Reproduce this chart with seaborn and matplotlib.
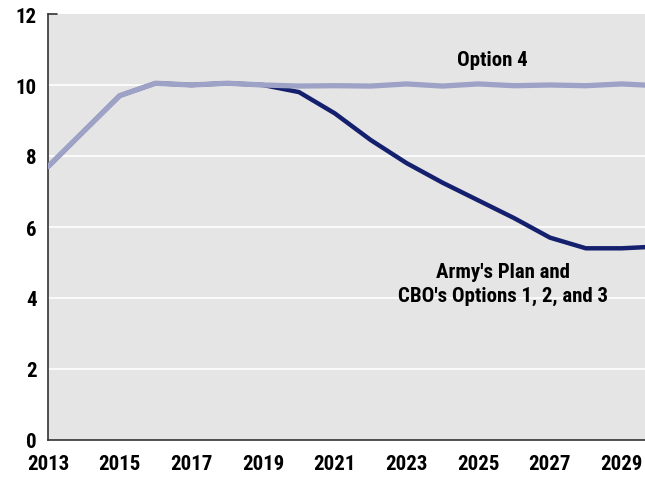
import numpy as np
import pandas as pd
import matplotlib
matplotlib.use("Agg")
import matplotlib.pyplot as plt
import seaborn as sns

# Datos
years = list(range(2013, 2031))
army_plan = [7.7, 8.7, 9.7, 10.05, 10.0, 10.05, 10.0, 9.8, 9.2, 8.45, 7.8, 7.25,
             6.75, 6.25, 5.7, 5.4, 5.4, 5.45]
option4 = [7.7, 8.7, 9.7, 10.05, 10.0, 10.05, 10.0, 9.97, 9.98, 9.97, 10.03, 9.97,
           10.03, 9.98, 10.0, 9.98, 10.03, 9.98]
xticks = list(range(2013, 2030, 2))
yticks = [0, 2, 4, 6, 8, 10, 12]

df = pd.DataFrame({"Year": years, "Army": army_plan, "Option 4": option4})

sns.set_style("white")
plt.rcParams["font.family"] = ["Roboto Condensed", "DejaVu Sans"]
plt.rcParams["font.weight"] = "bold"
plt.rcParams["text.color"] = "black"
plt.rcParams["xtick.color"] = "black"
plt.rcParams["ytick.color"] = "black"

fig = plt.figure(figsize=(6.45, 4.81), dpi=100)
ax = fig.add_axes([48 / 645, 40 / 481, 1 - 48 / 645, (441 - 15) / 481])
ax.set_facecolor("#e5e5e5")

for y in yticks[1:-1]:
    ax.axhline(y, color="white", lw=1.2, zorder=1)

sns.lineplot(data=df, x="Year", y="Army", ax=ax, color="#141f6e", lw=3.2, zorder=3)
sns.lineplot(data=df, x="Year", y="Option 4", ax=ax, color="#9ea2c6", lw=3.8, zorder=4)

ax.set_xlim(2013, 2029.65)
ax.set_ylim(0, 12)
ax.set_xticks(xticks)
ax.set_yticks(yticks)
ax.set_xticklabels([str(x) for x in xticks], fontsize=15, fontweight="bold")
ax.set_yticklabels([str(y) for y in yticks], fontsize=15, fontweight="bold")
ax.tick_params(axis="x", direction="in", length=7, width=1, color="#333333", pad=10)
ax.tick_params(axis="y", length=0, pad=8)
ax.set_xlabel("")
ax.set_ylabel("")

# pequeña marca en el tope del eje y
ax.plot([0, 0.015], [1, 1], transform=ax.transAxes, color="#333333", lw=1.2, clip_on=False)

for s in ["top", "right"]:
    ax.spines[s].set_visible(False)
for s in ["left", "bottom"]:
    ax.spines[s].set_color("#333333")
    ax.spines[s].set_linewidth(1.2)

ax.text(2025.4, 10.73, "Option 4", ha="center", va="center", fontsize=15, fontweight="bold")
ax.text(2025.7, 4.4, "Army's Plan and\nCBO's Options 1, 2, and 3", ha="center", va="center",
        fontsize=15, fontweight="bold", linespacing=1.3)

fig.savefig("out.png", dpi=100)
